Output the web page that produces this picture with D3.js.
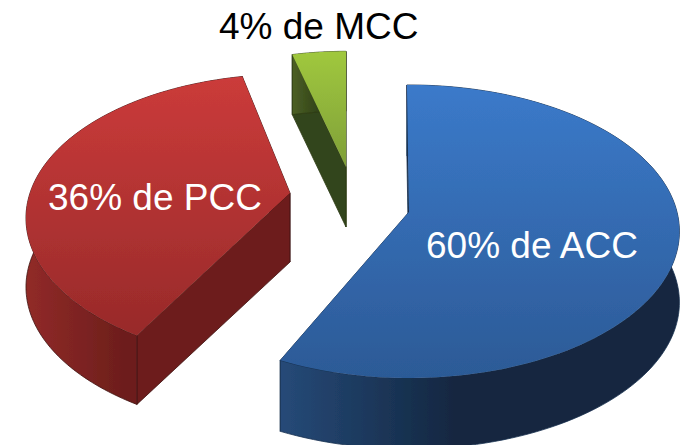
<!DOCTYPE html>
<html>
<head>
<meta charset="utf-8">
<script src="https://cdn.jsdelivr.net/npm/d3@7"></script>
<style>
  html, body { margin: 0; padding: 0; background: #fff; }
  svg { display: block; }
  text { font-family: "Liberation Sans", Arial, sans-serif; font-size: 37px; }
</style>
</head>
<body>
<div id="chart"></div>
<script>
const categories = ["ACC", "PCC", "MCC"]
const shares = [60, 36, 4]

const width = 695
const height = 445

// where each exploded slice sits, in order of categories
const apex = [[409, 212], [290, 193], [346, 167]]
const sliceScale = [1, 0.97, 0.9]
const depth = [71, 69, 60]
const persp = [0.133, 0.18, 0.133]
const labelPos = [[426, 258], [48, 210], [219, 39]]
const labelFill = ["#fff", "#fff", "#000"]
// small gap between slices, degrees trimmed at start and end
const trim = [[-0.5, -3], [2, 1], [-1, 0]]

const topColors = [["#3b7aca", "#2c5a96"], ["#cb3b3a", "#982a2a"], ["#a0c83e", "#7f9f38"]]
const wallColors = [["#264a78", "#12263f"], ["#912a28", "#6d1e1c"], ["#4c6024", "#33451a"]]
const edgeColors = ["#16304f", "#3d1110", "#2c3a14"]

const svg = d3.select("#chart")
  .append("svg")
  .attr("width", width)
  .attr("height", height)

const defs = svg.append("defs")

defs.append("filter")
  .attr("id", "soft")
  .append("feGaussianBlur")
  .attr("stdDeviation", 0.4)

// tilted disc with perspective, back of the pie is foreshortened
const R = 268
const tilt = 0.537

// the 3D view of the original squeezes the slice angles a bit
const warp = a => a + 0.0976 * Math.sin(a) - 0.0866 * Math.sin(2 * a)
const rad = d => d * Math.PI / 180

function project(t, r, i) {
  const u = r * Math.sin(t)
  const v = r * Math.cos(t)
  const f = 1 / (1 + persp[i] * v / R)
  return [apex[i][0] + u * f, apex[i][1] - v * tilt * f]
}

const pie = d3.pie().sort(null)
const slices = pie(shares)
const line = d3.line()

slices.forEach((s, i) => {
  const r = R * sliceScale[i]
  const t0 = warp(s.startAngle) + rad(trim[i][0])
  const t1 = warp(s.endAngle) + rad(trim[i][1])
  const arcPts = d3.range(0, 121).map(k => project(t0 + (t1 - t0) * k / 120, r, i))
  const down = p => [p[0], p[1] + depth[i]]

  const topGrad = defs.append("linearGradient")
    .attr("id", "top" + i)
    .attr("x1", 0).attr("x2", 0).attr("y1", 0).attr("y2", 1)
  topGrad.append("stop").attr("offset", 0).attr("stop-color", topColors[i][0])
  topGrad.append("stop").attr("offset", 1).attr("stop-color", topColors[i][1])

  const wallGrad = defs.append("linearGradient")
    .attr("id", "wall" + i)
    .attr("x1", 0).attr("x2", 1).attr("y1", 0).attr("y2", 0)
  wallGrad.append("stop").attr("offset", 0).attr("stop-color", wallColors[i][0])
  wallGrad.append("stop").attr("offset", 0.45).attr("stop-color", wallColors[i][1])
  wallGrad.append("stop").attr("offset", 1).attr("stop-color", wallColors[i][1])

  const g = svg.append("g")
    .attr("class", "slice " + categories[i])
    .attr("filter", "url(#soft)")

  // everything extruded downward, the top face hides what is behind
  // back wall first so the nearer one paints over it
  const c = apex[i]
  const ends = [arcPts[0], arcPts[arcPts.length - 1]].sort((a, b) => a[1] - b[1])
  ends.forEach(p => {
    g.append("path")
      .attr("d", line([c, p, down(p), down(c)]) + "Z")
      .attr("fill", wallColors[i][1])
      .attr("stroke", edgeColors[i])
      .attr("stroke-width", 0.8)
  })

  const wallPts = arcPts.concat(arcPts.map(down).reverse())
  g.append("path")
    .attr("d", line(wallPts) + "Z")
    .attr("fill", "url(#wall" + i + ")")
    .attr("stroke", edgeColors[i])
    .attr("stroke-width", 0.8)

  g.append("path")
    .attr("d", line([c].concat(arcPts)) + "Z")
    .attr("fill", "url(#top" + i + ")")
})

svg.selectAll(".label")
  .data(categories)
  .enter().append("text")
  .attr("class", "label")
  .attr("x", (d, i) => labelPos[i][0])
  .attr("y", (d, i) => labelPos[i][1])
  .attr("fill", (d, i) => labelFill[i])
  .text((d, i) => shares[i] + "% de " + d)
</script>
</body>
</html>
